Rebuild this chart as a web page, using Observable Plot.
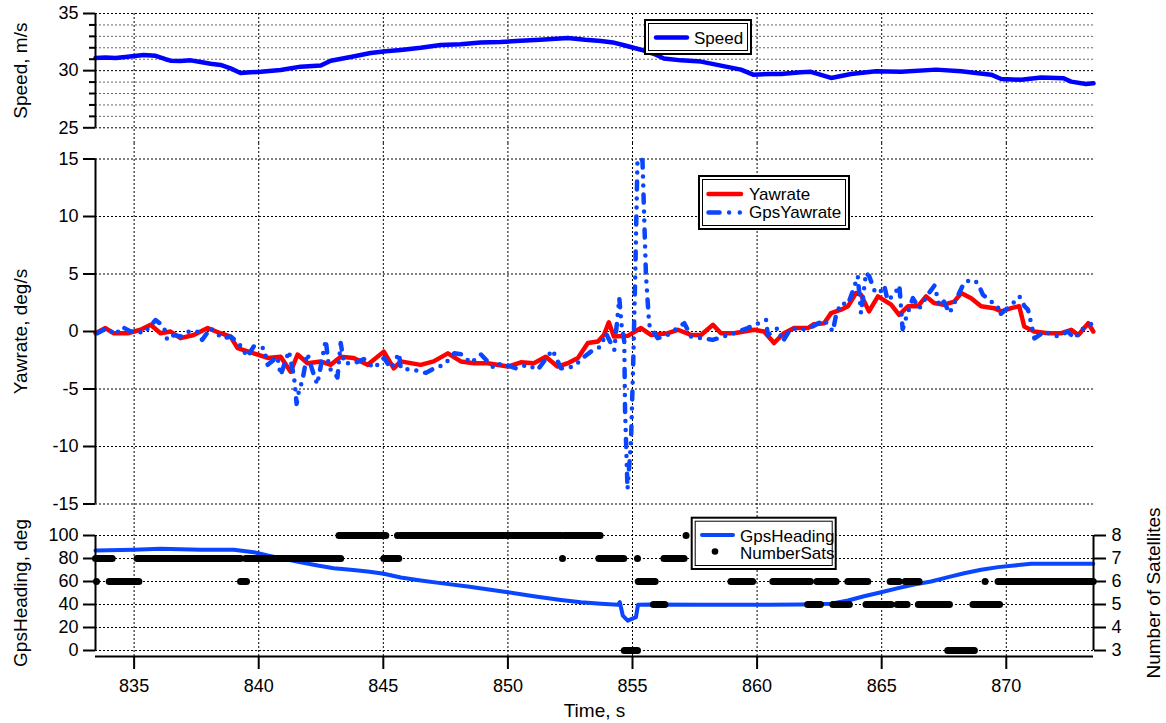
<!DOCTYPE html>
<html>
<head>
<meta charset="utf-8">
<script src="https://cdn.jsdelivr.net/npm/d3@7"></script>
<script src="https://cdn.jsdelivr.net/npm/@observablehq/plot@0.6"></script>
<style>
  body { margin: 0; background: #fff; }
  #chart { position: relative; width: 1166px; height: 723px; overflow: hidden; background: #fff; }
  #chart svg { position: absolute; left: 0; overflow: visible; }
</style>
</head>
<body>
<div id="chart"></div>
<script>
// ---------------- DATA ----------------
const xDomain = [833.45, 873.5];
const timeTicks = [835, 840, 845, 850, 855, 860, 865, 870];

// Speed, m/s
const speedTime = [833.45,833.85,834.25,834.65,835.38,835.86,836.26,836.46,836.86,837.27,837.67,838.07,838.47,838.87,839.27,839.67,840.08,840.88,841.68,842.49,842.89,843.69,844.49,845.1,845.7,846.5,847.3,848.1,848.9,849.7,850.5,851.3,852.4,853.1,853.73,854.21,854.7,855.34,855.94,856.26,856.95,857.75,858.55,859.35,859.84,860.56,860.96,861.76,862.16,862.97,863.77,864.77,865.78,867.18,868.19,869.39,869.8,870.6,871.4,872.3,872.6,873.2,873.5];
const speedValue = [31.1,31.15,31.1,31.2,31.37,31.3,31.0,30.87,30.85,30.9,30.75,30.6,30.5,30.2,29.8,29.85,29.9,30.05,30.35,30.45,30.87,31.2,31.54,31.7,31.8,32.0,32.24,32.3,32.47,32.5,32.62,32.7,32.85,32.7,32.6,32.47,32.2,31.83,31.4,31.07,30.9,30.79,30.44,30.09,29.65,29.7,29.7,29.85,29.9,29.36,29.7,29.94,29.9,30.09,29.94,29.65,29.27,29.2,29.4,29.33,29.04,28.84,28.9];
const speedMajorTicks = [25, 30, 35];
const speedMinorTicks = [26, 27, 28, 29, 31, 32, 33, 34];

// Yawrate, deg/s
const yawTime = [833.45,833.85,834.17,834.74,835.26,835.66,836.06,836.46,836.86,837.39,837.95,838.47,838.87,839.15,839.8,840.36,840.88,841.28,841.56,841.96,842.49,842.89,843.29,843.81,844.37,845.02,845.42,845.7,846.5,847.02,847.59,848.11,848.63,849.19,850.0,850.52,851.04,851.52,851.99,852.4,852.81,853.21,853.61,853.85,854.05,854.25,854.81,855.34,855.74,856.42,856.82,857.35,857.75,858.23,858.55,859.07,859.88,860.28,860.68,861.08,861.48,862.04,862.28,862.69,862.97,863.37,863.65,863.97,864.17,864.49,864.85,865.38,865.7,866.06,866.46,866.78,867.1,867.5,867.91,868.19,868.59,868.99,869.51,869.8,870.2,870.52,870.72,871.12,871.68,872.21,872.61,872.89,873.29,873.49];
const yawValue = [-0.15,0.3,-0.15,-0.15,0.15,0.58,-0.15,0,-0.58,-0.3,0.3,-0.15,-0.44,-1.45,-1.9,-2.3,-2.2,-3.5,-2.0,-2.76,-2.6,-2.9,-2.2,-2.3,-2.9,-1.75,-3.2,-2.6,-2.9,-2.6,-1.9,-2.6,-2.76,-2.76,-3.05,-2.68,-2.76,-2.2,-3.05,-2.76,-2.3,-1.0,-0.87,-0.3,0.8,-0.44,-0.38,0.3,-0.3,-0.15,0.15,-0.3,-0.3,0.58,-0.15,-0.15,0.15,0,-1.0,-0.15,0.3,0.3,0.64,0.72,1.6,1.9,2.2,3.34,3.2,1.75,3.05,2.33,1.45,2.2,2.2,3.05,2.47,2.33,2.6,3.34,2.9,2.2,2.03,1.75,2.03,2.2,0.44,0,-0.15,-0.15,0.15,-0.3,0.72,0];

// GpsYawrate, deg/s
const gpsYawTime = [833.52,833.92,834.25,834.52,834.86,835.12,835.39,835.86,836.19,836.33,836.6,836.86,837.2,837.53,837.73,838.07,838.54,838.87,839.2,839.54,839.8,840.21,840.36,840.75,840.88,841.21,841.42,841.48,841.52,841.62,841.75,841.95,842.15,842.35,842.69,842.82,843.02,843.16,843.29,843.42,843.82,844.22,844.63,845.03,845.3,845.63,845.7,846.24,846.71,847.04,847.44,847.85,848.18,848.51,848.92,849.45,849.72,850.32,850.79,851.19,851.79,852.13,852.66,853.0,853.33,853.73,853.93,854.27,854.47,854.56,854.67,854.7,854.8,854.94,855.03,855.11,855.2,855.4,855.54,855.67,856.01,856.41,857.08,857.35,858.22,859.08,859.62,860.36,860.43,860.83,861.03,861.36,861.76,862.23,862.7,863.04,863.17,863.37,863.64,863.84,864.04,864.17,864.37,864.5,864.7,864.9,865.1,865.24,865.5,865.71,865.84,865.98,866.25,866.51,866.85,867.12,867.32,867.5,867.72,868.32,868.66,868.86,869.06,869.4,869.66,869.73,870.2,870.53,870.73,870.87,871.0,871.13,871.53,872.07,872.47,872.74,873.0,873.4];
const gpsYawValue = [-0.15,0.3,-0.3,0.4,0,0,-0.15,1.0,0.44,-0.73,-0.3,-0.44,0,0,-0.73,0.3,-0.6,-0.44,-1.0,-2.2,-1.3,-1.45,-2.9,-2.2,-3.8,-1.7,-4.0,-5.3,-6.3,-5.1,-4.3,-1.9,-3.35,-4.6,-0.73,-3.2,-3.5,-4.0,-1.0,-2.76,-2.76,-2.4,-3.2,-2.3,-3.2,-1.9,-3.2,-3.35,-3.6,-3.2,-2.9,-1.9,-2.0,-2.76,-2.0,-3.2,-2.76,-3.2,-2.9,-3.35,-1.6,-3.2,-3.05,-2.3,-1.75,-1.3,-0.15,-1.6,2.9,0.58,-0.87,-6.7,-13.7,-9.6,-2.6,4.9,15,14.9,4.9,0.58,-0.58,-0.3,0.72,-0.44,-0.73,-0.15,0.3,1.0,-0.3,0.3,-0.87,0.3,0.15,0.44,1.0,0,1.45,2.47,2.33,3.5,4.8,1.6,5.1,4.8,3.6,3.3,4.0,2.7,3.2,4.0,0.2,1.2,2.9,2.0,3.2,4.0,2.2,2.6,1.6,4.3,4.5,4.2,3.2,2.6,2.2,1.45,2.3,3.05,2.2,1.9,0.7,-0.6,0,-0.44,0,-0.6,0.15,0.64];
const yawTicks = [-15, -10, -5, 0, 5, 10, 15];

// GpsHeading, deg
const headingTime = [833.45,834.98,836.06,837.67,839.0,839.8,840.36,841.0,841.68,842.37,843.01,843.69,844.37,845.02,845.7,846.5,847.3,848.39,850.0,851.04,852.13,852.93,853.73,854.41,854.49,854.61,854.81,855.14,855.22,855.74,857.75,860.44,861.76,862.97,863.65,864.29,864.98,865.66,866.3,866.98,867.67,868.31,868.99,869.67,870.32,871.0,871.68,873.49];
const headingValue = [87,87.6,88.4,87.6,87.6,85.5,82.6,79.7,76.8,73.9,71.6,70.2,68.7,66.7,63.5,60.9,58.6,55.7,50.7,47.2,44,42,40.6,39.7,42,30.4,26,29,39.7,40,39.7,39.7,40,40.6,43.5,47.2,50.7,54.2,57.4,60,63.8,67.2,70.2,72.5,73.9,75.4,75.4,75.4];
const headingTicks = [0, 20, 40, 60, 80, 100];

// NumberSats: runs of consecutive samples [start, end, count]
const satRunStart = [833.45,833.49,834.0,835.12,839.27,839.47,843.22,845.02,845.57,845.7,852.19,852.25,853.65,854.67,855.2,855.23,855.84,856.26,857.15,858.95,860.63,862.03,862.4,863.04,863.64,864.37,865.34,865.62,865.94,866.47,867.65,868.66,869.15,869.67];
const satRunEnd   = [834.12,833.49,835.19,839.27,839.51,843.29,845.1,845.62,845.57,852.13,852.19,853.7,854.65,855.2,855.2,855.91,856.3,857.07,857.15,859.82,862.14,862.54,863.17,863.7,864.44,865.38,865.7,866.02,866.5,867.72,868.72,869.73,869.15,873.49];
const satRunCount = [7,6,6,7,6,7,8,7,8,8,7,8,7,3,7,6,5,7,8,6,6,5,6,5,6,5,6,5,6,5,3,5,6,6];
const satTicks = [3, 4, 5, 6, 7, 8];

// ---------------- STYLE ----------------
const FONT = "'Liberation Sans', Arial, Helvetica, sans-serif";
const BLUE = "#0000ff";
const BLUE2 = "#0a46ff";
const RED = "#ff0000";
const GRID = {stroke: "#000", strokeWidth: 1, strokeDasharray: "2,2"};
const common = {
  width: 1166, marginLeft: 95, marginRight: 73,
  style: {fontFamily: FONT, fontSize: "18px", color: "#000", background: "transparent"}
};
const satToHeading = s => (s - 3) * 20;
const idx = n => d3.range(n);
const plain = d => String(d);
const vTitle = (txt, yv, anchor, dx) =>
  Plot.text([txt], {y: [yv], frameAnchor: anchor, dx, rotate: -90, textAnchor: "middle", lineAnchor: "middle", fontSize: 19, text: d => d});

// ---------------- PANEL 1: Speed ----------------
const p1 = Plot.plot({
  ...common, height: 143, marginTop: 13, marginBottom: 0,
  x: {domain: xDomain, axis: null},
  y: {domain: [25, 35], insetBottom: 15.7},
  marks: [
    Plot.ruleY(speedMinorTicks, {...GRID, stroke: "#666"}),
    Plot.ruleY(speedMajorTicks, GRID),
    Plot.ruleX(timeTicks, GRID),
    Plot.line(idx(speedTime.length), {x: i => speedTime[i], y: i => speedValue[i], stroke: BLUE, strokeWidth: 4.5, strokeLinejoin: "round", strokeLinecap: "round"}),
    Plot.ruleX([xDomain[0]], {y1: 25, y2: 35, strokeWidth: 2}),
    Plot.axisY({ticks: speedMajorTicks, tickFormat: plain, tickSize: 12, tickPadding: 5, strokeWidth: 2, label: null, fontSize: 18}),
    Plot.axisY({ticks: speedMinorTicks, tickSize: 6, tickFormat: () => "", strokeWidth: 2, label: null}),
    vTitle("Speed, m/s", 30, "left", -75)
  ]
});

// ---------------- PANEL 2: Yawrate ----------------
const p2 = Plot.plot({
  ...common, height: 375, marginTop: 0, marginBottom: 0,
  x: {domain: xDomain, axis: null},
  y: {domain: [-15, 15], insetTop: 15.5, insetBottom: 14.5},
  marks: [
    Plot.ruleY(yawTicks, GRID),
    Plot.ruleX(timeTicks, GRID),
    Plot.line(idx(yawTime.length), {x: i => yawTime[i], y: i => yawValue[i], stroke: RED, strokeWidth: 4.5, strokeLinejoin: "round", strokeLinecap: "round"}),
    Plot.line(idx(gpsYawTime.length), {x: i => gpsYawTime[i], y: i => gpsYawValue[i], stroke: BLUE2, strokeWidth: 4.5, strokeLinejoin: "round", strokeLinecap: "round", strokeDasharray: "8,9,0,9,0,9"}),
    Plot.ruleX([xDomain[0]], {y1: -15, y2: 15, strokeWidth: 2}),
    Plot.axisY({ticks: yawTicks, tickFormat: plain, tickSize: 12, tickPadding: 5, strokeWidth: 2, label: null, fontSize: 18}),
    vTitle("Yawrate, deg/s", 0, "left", -75)
  ]
});

// ---------------- PANEL 3: GpsHeading + NumberSats ----------------
const p3 = Plot.plot({
  ...common, height: 205, marginTop: 0, marginBottom: 67,
  x: {domain: xDomain},
  y: {domain: [0, 100], insetTop: 17, insetBottom: 6},
  marks: [
    Plot.ruleY(headingTicks, GRID),
    Plot.ruleX(timeTicks, GRID),
    Plot.line(idx(headingTime.length), {x: i => headingTime[i], y: i => headingValue[i], stroke: BLUE2, strokeWidth: 4, strokeLinejoin: "round", strokeLinecap: "round"}),
    Plot.link(idx(satRunStart.length), {
      x1: i => satRunStart[i], x2: i => satRunEnd[i],
      y1: i => satToHeading(satRunCount[i]), y2: i => satToHeading(satRunCount[i]),
      stroke: "#000", strokeWidth: 7, strokeLinecap: "round"
    }),
    Plot.ruleX([xDomain[0]], {y1: 0, y2: 100, strokeWidth: 2}),
    Plot.ruleX([xDomain[1]], {y1: 0, y2: 100, strokeWidth: 2}),
    Plot.ruleY([0], {dy: 6, strokeWidth: 2}),
    Plot.axisY({ticks: headingTicks, tickFormat: plain, tickSize: 12, tickPadding: 5, strokeWidth: 2, label: null, fontSize: 18}),
    Plot.axisY({anchor: "right", ticks: satTicks.map(satToHeading), tickFormat: v => String(v / 20 + 3), tickSize: 12, tickPadding: 6, strokeWidth: 2, label: null, fontSize: 18}),
    Plot.axisX({ticks: timeTicks, tickFormat: plain, tickSize: 13, tickPadding: 10, strokeWidth: 2, label: null, fontSize: 18}),
    vTitle("GpsHeading, deg", 50, "left", -75),
    vTitle("Number of Satellites", 50, "right", 60),
    Plot.text(["Time, s"], {frameAnchor: "bottom", dy: 54, textAnchor: "middle", lineAnchor: "middle", fontSize: 19, text: d => d})
  ]
});

const chart = document.getElementById("chart");
p1.style.top = "0px";
p2.style.top = "143px";
p3.style.top = "518px";
chart.append(p1, p2, p3);

// ---------------- LEGENDS ----------------
const leg = d3.create("svg").attr("width", 1166).attr("height", 723)
  .style("top", "0px").style("font-family", FONT).style("font-size", "17px");

function box(x0, y0, x1, y1) {
  leg.append("rect").attr("x", x0 + 1).attr("y", y0 + 1).attr("width", x1 - x0 - 2).attr("height", y1 - y0 - 2)
    .attr("fill", "#fff").attr("stroke", "#000").attr("stroke-width", 2);
  leg.append("rect").attr("x", x0 + 4.5).attr("y", y0 + 4.5).attr("width", x1 - x0 - 9).attr("height", y1 - y0 - 9)
    .attr("fill", "none").attr("stroke", "#000").attr("stroke-width", 1);
}
function sample(x1, x2, y, color, w, dash) {
  const l = leg.append("line").attr("x1", x1).attr("x2", x2).attr("y1", y).attr("y2", y)
    .attr("stroke", color).attr("stroke-width", w).attr("stroke-linecap", "round");
  if (dash) l.attr("stroke-dasharray", dash);
}
function label(x, y, t) {
  leg.append("text").attr("x", x).attr("y", y).attr("fill", "#000").text(t);
}

box(644, 19, 752, 55);
sample(656, 687, 37.5, BLUE, 4.5);
label(694, 43.5, "Speed");

box(698, 175, 850, 230);
sample(708.5, 741, 194, RED, 4.5);
label(749, 199.5, "Yawrate");
sample(708.5, 741, 212.5, BLUE2, 4.5, "11,9.6,0,10.7,0,9.6");
label(749, 218, "GpsYawrate");

box(690.7, 516.7, 836.7, 570);
sample(702, 733, 535, BLUE2, 4);
leg.append("circle").attr("cx", 715).attr("cy", 551.5).attr("r", 3.3).attr("fill", "#000");
label(740, 541.7, "GpsHeading");
label(740, 559.3, "NumberSats");

chart.append(leg.node());
</script>
</body>
</html>
